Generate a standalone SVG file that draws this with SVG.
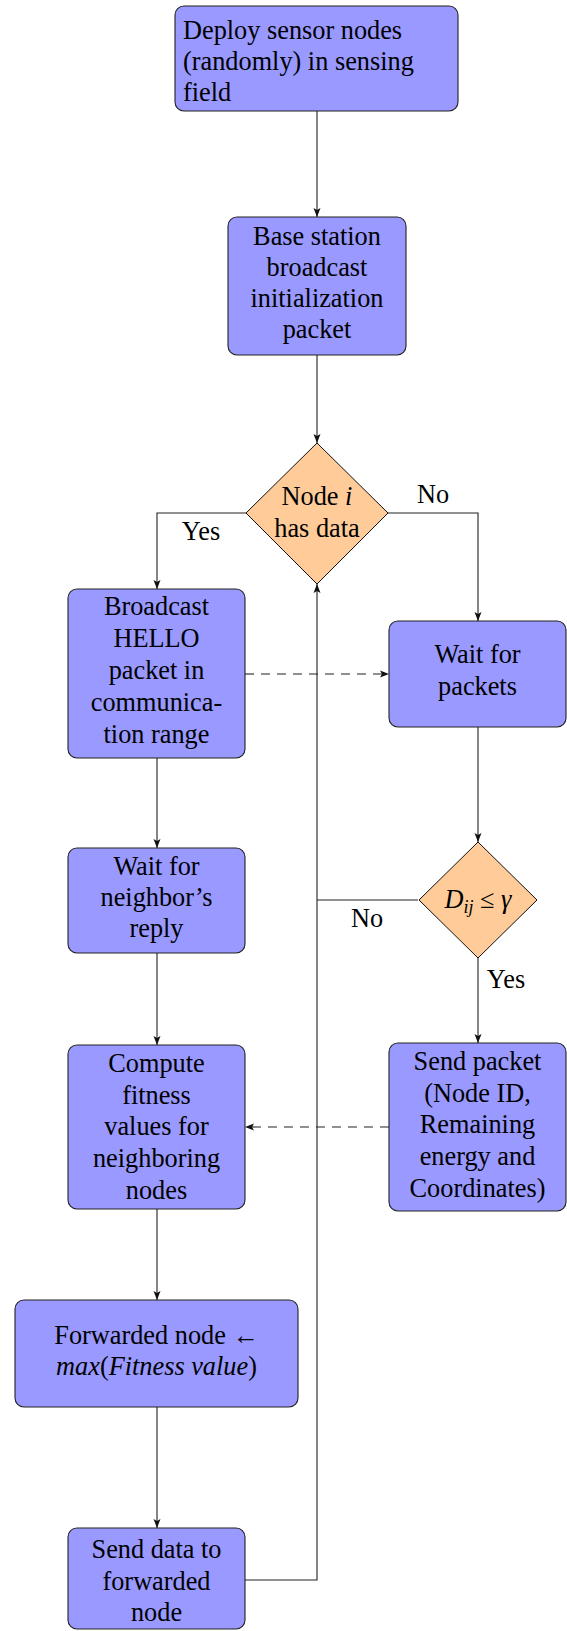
<svg xmlns="http://www.w3.org/2000/svg" width="567" height="1631" viewBox="0 0 567 1631">
<defs>
<style>
.box{fill:#9999FF;stroke:#222;stroke-width:1.1}
.dia{fill:#FFCC99;stroke:#111;stroke-width:1}
.t{font-family:'Liberation Serif','Times New Roman',Times,serif;font-size:26.3px;fill:#000;text-anchor:middle}
.tl{text-anchor:start}
.m{font-style:italic}
.ln{fill:none;stroke:#222;stroke-width:1.1}
.ar{marker-end:url(#ah)}
.da{stroke-dasharray:9,7}
</style>
<marker id="ah" markerUnits="userSpaceOnUse" markerWidth="10" markerHeight="10" viewBox="0 0 10 10" refX="9" refY="5" orient="auto">
<path d="M0,1.5 L9,5 L0,8.5 L2,5 Z" fill="#111"/>
</marker>
</defs>
<rect width="567" height="1631" fill="#fff"/>

<g id="connectors">
<path class="ln ar" d="M317,111 V217"/>
<path class="ln ar" d="M317,355 V443"/>
<path class="ln ar" d="M246,513 H157 V589"/>
<path class="ln ar" d="M388,513 H478 V621"/>
<path class="ln ar da" d="M245,674 H389"/>
<path class="ln ar" d="M157,758 V848"/>
<path class="ln ar" d="M478,727 V842"/>
<path class="ln" d="M418,900 H317"/>
<path class="ln ar" d="M478,958 V1043"/>
<path class="ln ar da" d="M389,1127 H245"/>
<path class="ln ar" d="M157,953 V1045"/>
<path class="ln ar" d="M157,1209 V1300"/>
<path class="ln ar" d="M157,1407 V1528"/>
<path class="ln ar" d="M245,1580 H317 V584"/>
<text class="t" x="433" y="503">No</text>
<text class="t" x="201" y="540">Yes</text>
<text class="t" x="367" y="927">No</text>
<text class="t" x="506" y="988">Yes</text>
</g>

<g id="deploy">
<rect class="box" x="175" y="6" width="283" height="105" rx="9"/>
<text class="t tl" x="183" y="38.5">Deploy sensor nodes</text>
<text class="t tl" x="183" y="69.5">(randomly) in sensing</text>
<text class="t tl" x="183" y="100.5">field</text>
</g>

<g id="basestation">
<rect class="box" x="228" y="217" width="178" height="138" rx="9"/>
<text class="t" x="317" y="245">Base station</text>
<text class="t" x="317" y="276">broadcast</text>
<text class="t" x="317" y="307">initialization</text>
<text class="t" x="317" y="338">packet</text>
</g>

<g id="hasdata">
<polygon class="dia" points="317,443 388,513 317,584 246,513"/>
<text class="t" x="317" y="505">Node <tspan class="m">i</tspan></text>
<text class="t" x="317" y="537">has data</text>
</g>

<g id="broadcast">
<rect class="box" x="68" y="589" width="177" height="169" rx="9"/>
<text class="t" x="156.5" y="615">Broadcast</text>
<text class="t" x="156.5" y="647">HELLO</text>
<text class="t" x="156.5" y="679">packet in</text>
<text class="t" x="156.5" y="711">communica-</text>
<text class="t" x="156.5" y="743">tion range</text>
</g>

<g id="waitpackets">
<rect class="box" x="389" y="621" width="177" height="106" rx="9"/>
<text class="t" x="477.5" y="663">Wait for</text>
<text class="t" x="477.5" y="695">packets</text>
</g>

<g id="waitreply">
<rect class="box" x="68" y="848" width="177" height="105" rx="9"/>
<text class="t" x="156.5" y="875">Wait for</text>
<text class="t" x="156.5" y="906">neighbor’s</text>
<text class="t" x="156.5" y="937">reply</text>
</g>

<g id="distance">
<polygon class="dia" points="478,842 537,900 478,958 419,900"/>
<text class="t" x="478" y="908"><tspan class="m">D</tspan><tspan class="m" font-size="18" dy="5">ij</tspan><tspan dy="-5"> ≤ </tspan><tspan class="m">γ</tspan></text>
</g>

<g id="compute">
<rect class="box" x="68" y="1045" width="177" height="164" rx="9"/>
<text class="t" x="156.5" y="1072">Compute</text>
<text class="t" x="156.5" y="1104">fitness</text>
<text class="t" x="156.5" y="1135">values for</text>
<text class="t" x="156.5" y="1167">neighboring</text>
<text class="t" x="156.5" y="1199">nodes</text>
</g>

<g id="sendpacket">
<rect class="box" x="389" y="1043" width="177" height="168" rx="9"/>
<text class="t" x="477.5" y="1070">Send packet</text>
<text class="t" x="477.5" y="1102">(Node ID,</text>
<text class="t" x="477.5" y="1133">Remaining</text>
<text class="t" x="477.5" y="1165">energy and</text>
<text class="t" x="477.5" y="1197">Coordinates)</text>
</g>

<g id="forwarded">
<rect class="box" x="15" y="1300" width="283" height="107" rx="9"/>
<text class="t" x="156.5" y="1344">Forwarded node ←</text>
<text class="t" x="156.5" y="1375"><tspan class="m">max</tspan>(<tspan class="m">Fitness value</tspan>)</text>
</g>

<g id="senddata">
<rect class="box" x="68" y="1528" width="177" height="101" rx="9"/>
<text class="t" x="156.5" y="1558">Send data to</text>
<text class="t" x="156.5" y="1590">forwarded</text>
<text class="t" x="156.5" y="1621">node</text>
</g>
</svg>
